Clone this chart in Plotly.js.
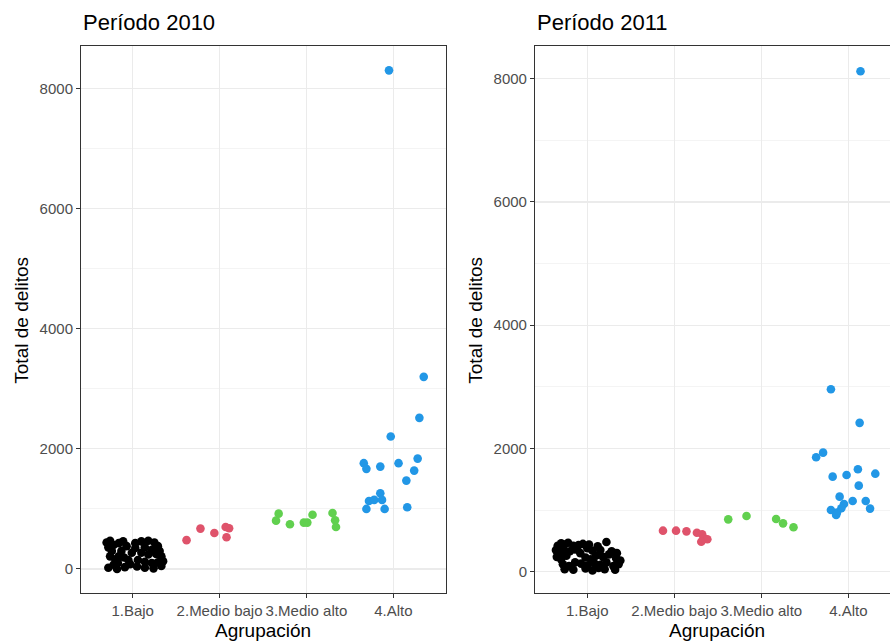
<!DOCTYPE html>
<html>
<head>
<meta charset="utf-8">
<script src="https://cdn.plot.ly/plotly-3.0.1.min.js"></script>
<style>html,body{margin:0;padding:0;background:#fff;overflow:hidden}</style>
</head>
<body>
<div id="chart" style="width:890px;height:643px"></div>
<script>
// ---- Data ----
const categories = ['1.Bajo', '2.Medio bajo', '3.Medio alto', '4.Alto'];
const categoryPos = [1, 2, 3, 4];
const yTicks = [0, 2000, 4000, 6000, 8000];
const yMinor = [1000, 3000, 5000, 7000];
const groupColors = ['#000000', '#DF536B', '#61D04F', '#2297E6'];

// Período 2010 (x = jittered category position, y = total de delitos)
const bajo2010X = [0.70,0.74,0.78,0.72,0.76,0.74,0.80,0.72,0.78,0.84,0.89,0.93,0.87,0.84,0.90,0.95,0.83,0.97,0.91,1.03,1.10,1.18,1.25,1.29,1.14,1.22,1.10,1.18,1.27,1.33,1.06,1.14,1.22,1.29,1.35,1.05,1.14,1.24,1.33,0.99,1.03,0.82,1.31];
const bajo2010Y = [440,470,400,360,300,210,160,20,70,430,460,380,300,210,190,150,100,80,30,430,460,470,440,380,360,320,270,240,250,210,150,120,100,110,130,40,20,10,50,270,350,0,300];
const medioBajo2010X = [1.62,1.78,1.94,2.07,2.11,2.08];
const medioBajo2010Y = [480,672,600,699,678,529];
const medioAlto2010X = [2.68,2.65,2.81,2.97,3.01,3.07,3.30,3.33,3.34];
const medioAlto2010Y = [921,805,744,772,772,904,931,810,699];
const alto2010X = [3.95,4.35,4.30,3.97,3.66,3.69,3.85,4.06,4.28,4.24,4.15,3.72,3.78,3.85,3.87,3.69,3.90,4.16];
const alto2010Y = [8305,3200,2517,2205,1762,1667,1705,1762,1838,1638,1472,1133,1150,1262,1150,1000,1000,1028];

// Período 2011
const bajo2011X = [0.66,0.70,0.74,0.78,0.84,0.90,0.95,1.02,1.22,1.12,0.64,0.68,0.72,0.80,0.86,1.00,1.06,1.15,1.28,1.34,0.65,0.70,0.76,0.92,0.98,1.04,1.10,1.18,1.25,1.33,1.38,0.72,0.79,0.86,0.93,1.00,1.08,1.15,1.22,1.30,1.36,0.74,0.84,0.98,1.06,1.13,1.20,1.32];
const bajo2011Y = [420,460,440,470,420,430,450,440,480,410,350,300,370,330,360,380,340,350,330,300,240,200,260,300,230,200,260,240,280,220,180,120,90,150,130,100,140,110,150,90,120,40,30,50,20,60,40,30];
const medioBajo2011X = [1.87,2.02,2.14,2.26,2.32,2.34,2.38,2.31];
const medioBajo2011Y = [665,665,654,632,606,541,525,486];
const medioAlto2011X = [2.62,2.83,3.17,3.25,3.37];
const medioAlto2011Y = [849,903,854,784,720];
const alto2011X = [4.14,3.80,4.13,3.63,3.71,3.82,3.98,4.11,4.31,4.12,3.90,4.05,4.20,4.25,3.95,3.92,3.80,3.87,3.86];
const alto2011Y = [8120,2961,2415,1856,1931,1542,1569,1661,1590,1396,1217,1147,1147,1023,1099,1029,1001,958,920];

// ---- Traces ----
const FONT = 'Liberation Sans, Arial, sans-serif';
function pts(x, y, color, xa, ya, name) {
  return {type: 'scatter', mode: 'markers', x: x, y: y, xaxis: xa, yaxis: ya, name: name,
    showlegend: false, hoverinfo: 'x+y',
    marker: {color: color, size: 8.6, line: {width: 0}}};
}
const data = [
  pts(bajo2010X, bajo2010Y, groupColors[0], 'x', 'y', categories[0]),
  pts(medioBajo2010X, medioBajo2010Y, groupColors[1], 'x', 'y', categories[1]),
  pts(medioAlto2010X, medioAlto2010Y, groupColors[2], 'x', 'y', categories[2]),
  pts(alto2010X, alto2010Y, groupColors[3], 'x', 'y', categories[3]),
  pts(bajo2011X, bajo2011Y, groupColors[0], 'x2', 'y2', categories[0]),
  pts(medioBajo2011X, medioBajo2011Y, groupColors[1], 'x2', 'y2', categories[1]),
  pts(medioAlto2011X, medioAlto2011Y, groupColors[2], 'x2', 'y2', categories[2]),
  pts(alto2011X, alto2011Y, groupColors[3], 'x2', 'y2', categories[3])
];

function xAxis(domain, range, anchor) {
  return {domain: domain, range: range, anchor: anchor, tickmode: 'array', tickvals: categoryPos, ticktext: categories,
    ticks: 'outside', ticklen: 4, tickwidth: 1, tickcolor: '#333333',
    showline: true, linecolor: '#333333', linewidth: 1, mirror: true,
    showgrid: true, gridcolor: '#ebebeb', gridwidth: 1.2, zeroline: false,
    tickfont: {family: FONT, size: 15, color: '#4d4d4d'}};
}
function yAxis(domain, range, anchor, mirror) {
  return {domain: domain, range: range, anchor: anchor, tickmode: 'array', tickvals: yTicks,
    ticks: 'outside', ticklen: 4, tickwidth: 1, tickcolor: '#333333',
    showline: true, linecolor: '#333333', linewidth: 1, mirror: mirror,
    showgrid: true, gridcolor: '#ebebeb', gridwidth: 1.2, zeroline: false,
    minor: {tickmode: 'array', tickvals: yMinor, showgrid: true, gridcolor: '#f0f0f0', gridwidth: 0.7, ticks: ''},
    tickfont: {family: FONT, size: 15, color: '#4d4d4d'}};
}
const yDom = [0.0778, 0.9285];
function ann(text, x, y, size, opts) {
  return Object.assign({text: text, x: x, y: y, xref: 'paper', yref: 'paper', showarrow: false,
    xanchor: 'center', yanchor: 'middle', font: {family: FONT, size: size, color: '#000000'}}, opts || {});
}
const layout = {
  width: 890, height: 643, margin: {l: 0, r: 0, t: 0, b: 0},
  paper_bgcolor: '#ffffff', plot_bgcolor: '#ffffff',
  font: {family: FONT},
  xaxis: xAxis([0.0910, 0.5011], [0.405, 4.606], 'y'),
  yaxis: yAxis(yDom, [-400, 8711], 'x', true),
  xaxis2: xAxis([0.6011, 1.0], [0.399, 4.479], 'y2'),
  yaxis2: yAxis(yDom, [-346, 8531], 'x2', false),
  annotations: [
    ann('Período 2010', 0.0910, 1 - 22/643, 22, {xanchor: 'left'}),
    ann('Período 2011', 0.6011, 1 - 22/643, 22, {xanchor: 'left'}),
    ann('Agrupación', 263/890, 1 - 630/643, 19),
    ann('Agrupación', 716.7/890, 1 - 630/643, 19),
    ann('Total de delitos', 20.7/890, 1 - 320/643, 19, {textangle: -90}),
    ann('Total de delitos', 474.7/890, 1 - 320/643, 19, {textangle: -90})
  ]
};
Plotly.newPlot('chart', data, layout, {displayModeBar: false, staticPlot: true});
</script>
</body>
</html>
